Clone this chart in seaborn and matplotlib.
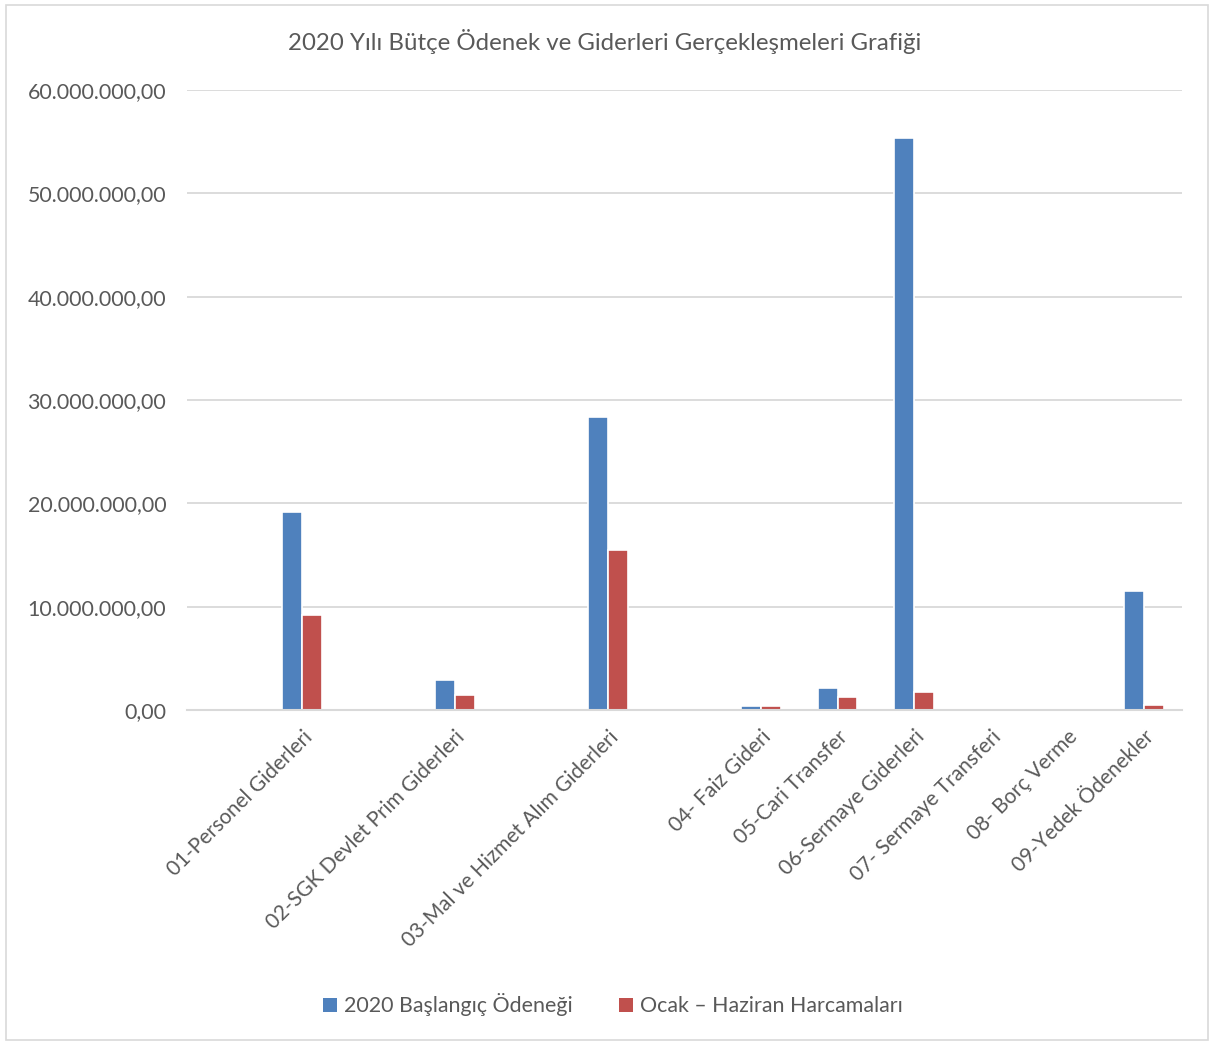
import matplotlib
matplotlib.use("Agg")
import matplotlib.pyplot as plt
import matplotlib.ticker as mticker
from matplotlib.patches import Patch, Rectangle
import pandas as pd
import seaborn as sns

# chart data
categories = ['01-Personel Giderleri', '02-SGK Devlet Prim Giderleri',
              '03-Mal ve Hizmet Alım Giderleri', '04- Faiz Gideri',
              '05-Cari Transfer', '06-Sermaye Giderleri',
              '07- Sermaye Transferi', '08- Borç Verme', '09-Yedek Ödenekler']
baslangic = [19150000, 2950000, 28400000, 380000, 2130000, 55350000, 60000, 0, 11480000]
harcama = [9150000, 1480000, 15450000, 400000, 1260000, 1790000, 0, 0, 520000]
series_names = ['2020 Başlangıç Ödeneği', 'Ocak – Haziran Harcamaları']
# Excel left empty category slots before 01, 02, 03 and 04
axis_order = ['_b0', categories[0], '_b1', categories[1], '_b2', categories[2],
              '_b3'] + categories[3:]

colors = ['#4F81BD', '#C0504D']
text_color = '#595959'

df = pd.DataFrame({
    'Kalem': categories * 2,
    'Tutar': baslangic + harcama,
    'Seri': [series_names[0]] * len(categories) + [series_names[1]] * len(categories),
})

sns.set_style('white')
plt.rcParams['font.family'] = ['Lato', 'DejaVu Sans']

fig = plt.figure(figsize=(12.1, 10.45), dpi=100)
ax = fig.add_axes([187 / 1210, 1 - 710 / 1045, (1182 - 187) / 1210, (710 - 90) / 1045])

sns.barplot(data=df, x='Kalem', y='Tutar', hue='Seri', order=axis_order,
            hue_order=series_names, palette=colors, saturation=1, width=0.52,
            edgecolor='white', linewidth=1.2, ax=ax, legend=False)

ax.set_ylim(0, 60000000)
ax.set_xlim(-0.5, len(axis_order) - 0.5)
ax.yaxis.set_major_locator(mticker.MultipleLocator(10000000))
ax.yaxis.set_major_formatter(mticker.FuncFormatter(
    lambda v, p: f'{v:,.2f}'.replace(',', 'X').replace('.', ',').replace('X', '.')))
ax.grid(axis='y', color='#D9D9D9', linewidth=1.3)
ax.set_axisbelow(True)
for s in ['left', 'right', 'top']:
    ax.spines[s].set_visible(False)
ax.spines['bottom'].set_color('#D9D9D9')
ax.spines['bottom'].set_linewidth(1.5)

labels = ['' if c.startswith('_b') else c for c in axis_order]
ax.set_xticks(range(len(axis_order)))
ax.set_xticklabels(labels, rotation=45, ha='right', rotation_mode='anchor',
                   fontsize=15, color=text_color)
ax.tick_params(axis='x', length=0, pad=12)
ax.tick_params(axis='y', length=0, pad=15, labelsize=15.4, colors=text_color)
ax.set_xlabel('')
ax.set_ylabel('')

fig.text(0.5, 1 - 42 / 1045, '2020 Yılı Bütçe Ödenek ve Giderleri Gerçekleşmeleri Grafiği',
         ha='center', va='center', fontsize=17.3, color=text_color)

handles = [Patch(facecolor=c, edgecolor='none') for c in colors]
fig.legend(handles, series_names, loc='center', bbox_to_anchor=(613 / 1210, 1 - 1005 / 1045),
           ncol=2, frameon=False, fontsize=15.4, handlelength=0.65, handleheight=0.65,
           handletextpad=0.3, columnspacing=2.2, labelcolor=text_color)

fig.patches.append(Rectangle((6 / 1210, 5 / 1045), 1202 / 1210, 1035 / 1045,
                             transform=fig.transFigure, fill=False,
                             edgecolor='#D9D9D9', linewidth=1.2))

fig.savefig('out.png', dpi=100)
